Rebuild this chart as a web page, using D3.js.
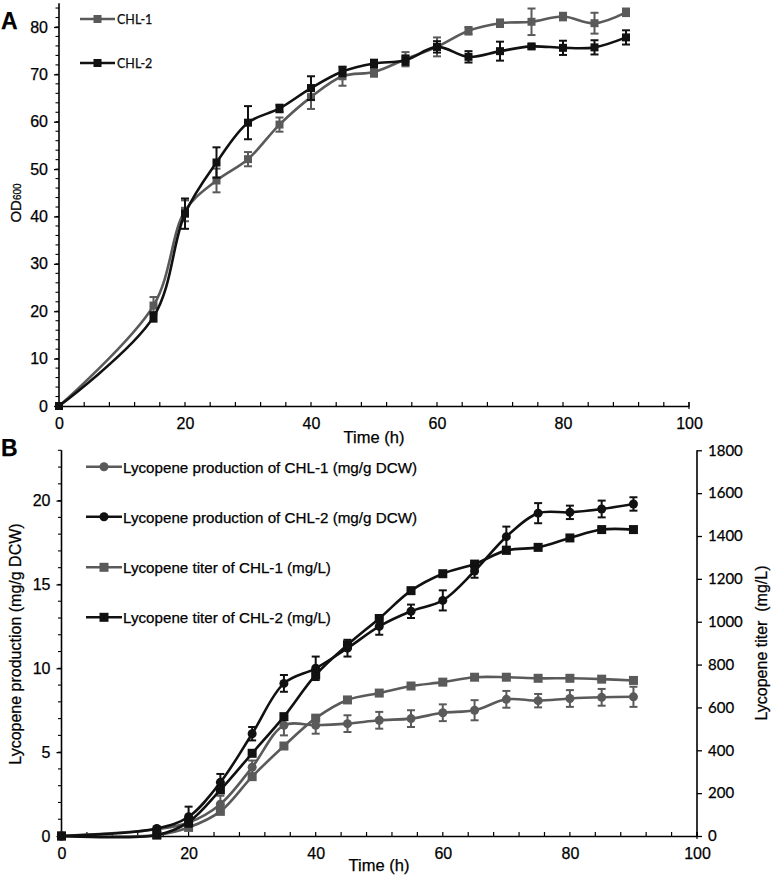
<!DOCTYPE html>
<html><head><meta charset="utf-8">
<script src="https://cdn.jsdelivr.net/npm/d3@7/dist/d3.min.js"></script>
<style>body{margin:0;background:#fff}svg{display:block}text{stroke:#000;stroke-width:0.25px}</style>
</head><body>
<svg id="c" width="774" height="876"></svg>
<script>
// ---- Data ----
const time = [0,15,20,25,30,35,40,45,50,55,60,65,70,75,80,85,90];
// Panel A: OD600
const od1 = [0,21.2,41.2,47.6,52.1,59.4,65.2,69.6,70.5,73.2,75.8,79.2,80.8,81.1,82.2,80.8,83.1];
const od1Err = [0,1.8,2.2,2.5,1.5,1.5,2.5,2.0,1.0,1.5,2.0,0.8,0.8,2.8,0.8,2.2,0.8];
const od2 = [0,18.8,40.6,51.4,59.8,62.8,67.1,70.6,72.3,73.0,75.8,73.7,74.9,75.9,75.6,75.7,77.8];
const od2Err = [0,1.0,3.2,3.2,3.5,0.8,2.5,1.0,0.8,1.0,1.2,1.2,2.0,0.5,1.5,1.5,1.5];
// Panel B: production (mg/g DCW, left axis) and titer (mg/L, right axis)
const prod1 = [0,0.4,0.8,1.9,4.1,6.6,6.6,6.7,6.9,7.0,7.35,7.5,8.15,8.07,8.2,8.27,8.3];
const prod1Err = [0,0.1,0.3,0.5,0.4,0.6,0.5,0.5,0.5,0.5,0.5,0.6,0.5,0.4,0.5,0.5,0.6];
const prod2 = [0,0.45,1.15,3.2,6.1,9.1,10.0,11.2,12.5,13.4,14.05,15.8,17.85,19.25,19.3,19.5,19.8];
const prod2Err = [0,0.1,0.6,0.5,0.4,0.5,0.7,0.5,0.5,0.4,0.6,0.4,0.6,0.6,0.4,0.5,0.4];
const titer1 = [0,5,40,115,277,420,550,635,667,700,718,741,741,736,736,732,726];
const titer2 = [0,5,65,215,386,557,752,892,1015,1145,1224,1269,1333,1347,1391,1430,1430];
const xTicks = [0,20,40,60,80,100];
const odTicks = [0,10,20,30,40,50,60,70,80];
const prodTicks = [0,5,10,15,20];
const titerTicks = [0,200,400,600,800,1000,1200,1400,1600,1800];
const legendA = ["CHL-1","CHL-2"];
const legendB = ["Lycopene production of CHL-1 (mg/g DCW)","Lycopene production of CHL-2 (mg/g DCW)","Lycopene titer of CHL-1 (mg/L)","Lycopene titer of CHL-2 (mg/L)"];

const GRAY = "#5a5a5a", BLACK = "#111";
const ARIAL = "'Liberation Sans', Arial, sans-serif";
const svg = d3.select("#c");

function drawXAxis(g, x, yPos) {
  const ax = d3.axisBottom(x).tickValues(xTicks).tickSize(0).tickPadding(12).tickFormat(d3.format("d"));
  const a = g.append("g").attr("transform", `translate(0,${yPos})`).call(ax);
  a.select(".domain").attr("stroke", "#000").attr("stroke-width", 1.6);
  a.selectAll("text").attr("font-family", ARIAL).attr("font-size", 16).attr("fill", "#000");
  const minor = d3.range(0, 101, 4);
  g.append("g").selectAll("line").data(minor).join("line")
    .attr("x1", d => x(d)).attr("x2", d => x(d)).attr("y1", yPos).attr("y2", yPos - 4)
    .attr("stroke", "#000").attr("stroke-width", 1.2);
  g.append("line").attr("x1", x(100)).attr("x2", x(100)).attr("y1", yPos - 4).attr("y2", yPos + 3)
    .attr("stroke", "#000").attr("stroke-width", 1.2);
}

function drawLeftAxis(g, y, xPos, ticks, minorStep, maxV) {
  const ax = d3.axisLeft(y).tickValues(ticks).tickSize(5).tickPadding(6).tickFormat(d3.format("d"));
  const a = g.append("g").attr("transform", `translate(${xPos},0)`).call(ax);
  a.select(".domain").remove();
  a.selectAll(".tick line").attr("stroke", "#000").attr("stroke-width", 1.3);
  a.selectAll("text").attr("font-family", ARIAL).attr("font-size", 16).attr("fill", "#000");
  g.append("line").attr("x1", xPos).attr("x2", xPos).attr("y1", y(0)).attr("y2", y(maxV))
    .attr("stroke", "#000").attr("stroke-width", 1.6);
  const minor = d3.range(0, maxV + 0.001, minorStep);
  g.append("g").selectAll("line").data(minor).join("line")
    .attr("x1", xPos).attr("x2", xPos - 3.5).attr("y1", d => y(d)).attr("y2", d => y(d))
    .attr("stroke", "#000").attr("stroke-width", 1.1);
}

function series(g, x, y, vals, errs, color, shape, size, width) {
  const pts = time.map((t, i) => [t, vals[i], errs ? errs[i] : 0]);
  const line = d3.line().x(d => x(d[0])).y(d => y(d[1])).curve(d3.curveCatmullRom.alpha(0.5));
  g.append("path").datum(pts).attr("d", line).attr("fill", "none")
    .attr("stroke", color).attr("stroke-width", width);
  if (errs) {
    const eg = g.append("g").attr("stroke", color).attr("stroke-width", 2);
    pts.filter(d => d[2] > 0).forEach(d => {
      const cx = x(d[0]), y1 = y(d[1] - d[2]), y2 = y(d[1] + d[2]);
      eg.append("line").attr("x1", cx).attr("x2", cx).attr("y1", y1).attr("y2", y2);
      eg.append("line").attr("x1", cx - 4).attr("x2", cx + 4).attr("y1", y1).attr("y2", y1);
      eg.append("line").attr("x1", cx - 4).attr("x2", cx + 4).attr("y1", y2).attr("y2", y2);
    });
  }
  const mg = g.append("g").attr("fill", color);
  pts.forEach(d => marker(mg, x(d[0]), y(d[1]), shape, size));
}

function marker(g, cx, cy, shape, size) {
  if (shape === "square") g.append("rect").attr("x", cx - size / 2).attr("y", cy - size / 2).attr("width", size).attr("height", size);
  else g.append("circle").attr("cx", cx).attr("cy", cy).attr("r", size / 2);
}

// ---- Panel A ----
const gA = svg.append("g");
const xA = d3.scaleLinear().domain([0, 100]).range([59, 689]);
const yA = d3.scaleLinear().domain([0, 85]).range([406, 3.3]);
drawLeftAxis(gA, yA, 59, odTicks, 2, 85);
drawXAxis(gA, xA, 406);
series(gA, xA, yA, od1, od1Err, GRAY, "square", 8, 2.6);
series(gA, xA, yA, od2, od2Err, BLACK, "square", 8, 2.6);
gA.append("text").attr("x", 374).attr("y", 443).attr("text-anchor", "middle")
  .attr("font-family", ARIAL).attr("font-size", 16.5).text("Time (h)");
const odLab = gA.append("text").attr("transform", "translate(21,203) rotate(-90)").attr("text-anchor", "middle")
  .attr("font-family", ARIAL).attr("font-size", 15);
odLab.append("tspan").text("OD");
odLab.append("tspan").attr("font-size", 10).text("600");
gA.append("text").attr("x", 1).attr("y", 29).attr("font-family", ARIAL).attr("font-weight", "bold")
  .attr("font-size", 23).text("A");
[[GRAY, 19], [BLACK, 63]].forEach(([c, yy], i) => {
  gA.append("line").attr("x1", 80).attr("x2", 115).attr("y1", yy).attr("y2", yy).attr("stroke", c).attr("stroke-width", 2.6);
  marker(gA.append("g").attr("fill", c), 97.5, yy, "square", 8);
  gA.append("text").attr("x", 117).attr("y", yy + 4.5).attr("font-family", "Lato, sans-serif")
    .attr("font-size", 12.5).attr("fill", "#111").attr("stroke-width", 0.15).text(legendA[i]);
});

// ---- Panel B ----
const gB = svg.append("g");
const xB = d3.scaleLinear().domain([0, 100]).range([61.5, 697]);
const yL = d3.scaleLinear().domain([0, 23]).range([836, 450.3]);
const yR = d3.scaleLinear().domain([0, 1800]).range([836, 450.3]);
drawLeftAxis(gB, yL, 61.5, prodTicks, 1, 23);
drawXAxis(gB, xB, 836);
// right axis
const axR = d3.axisRight(yR).tickValues(titerTicks).tickSize(5).tickPadding(6).tickFormat(d3.format("d"));
const aR = gB.append("g").attr("transform", "translate(697,0)").call(axR);
aR.select(".domain").attr("stroke", "#000").attr("stroke-width", 1.6).attr("d", `M0,${yR(0)}V${yR(1800)}`);
aR.selectAll(".tick line").attr("stroke", "#000").attr("stroke-width", 1.3);
aR.selectAll("text").attr("font-family", "Lato, sans-serif").attr("font-size", 15).attr("fill", "#000");

series(gB, xB, yR, titer1, null, GRAY, "square", 9, 2.6);
series(gB, xB, yL, prod1, prod1Err, GRAY, "circle", 9, 2.6);
series(gB, xB, yR, titer2, null, BLACK, "square", 9, 2.6);
series(gB, xB, yL, prod2, prod2Err, BLACK, "circle", 9, 2.6);

gB.append("text").attr("x", 379).attr("y", 871).attr("text-anchor", "middle")
  .attr("font-family", ARIAL).attr("font-size", 16.5).text("Time (h)");
gB.append("text").attr("transform", "translate(21,644) rotate(-90)").attr("text-anchor", "middle")
  .attr("font-family", ARIAL).attr("font-size", 16).text("Lycopene production (mg/g DCW)");
gB.append("text").attr("transform", "translate(767,643) rotate(-90)").attr("text-anchor", "middle")
  .attr("font-family", ARIAL).attr("font-size", 16).attr("xml:space", "preserve").text("Lycopene titer\u00a0 (mg/L)");
gB.append("text").attr("x", 1).attr("y", 456).attr("font-family", ARIAL).attr("font-weight", "bold")
  .attr("font-size", 23).text("B");
const legStyle = [[GRAY, "circle"], [BLACK, "circle"], [GRAY, "square"], [BLACK, "square"]];
const legY = [466.7, 516.7, 567.3, 617.3];
legStyle.forEach(([c, s], i) => {
  gB.append("line").attr("x1", 86).attr("x2", 122).attr("y1", legY[i]).attr("y2", legY[i]).attr("stroke", c).attr("stroke-width", 2.6);
  marker(gB.append("g").attr("fill", c), 104, legY[i], s, 9);
  gB.append("text").attr("x", 123).attr("y", legY[i] + 6).attr("font-family", ARIAL)
    .attr("font-size", 15.2).attr("fill", "#000").text(legendB[i]);
});
</script>
</body></html>
